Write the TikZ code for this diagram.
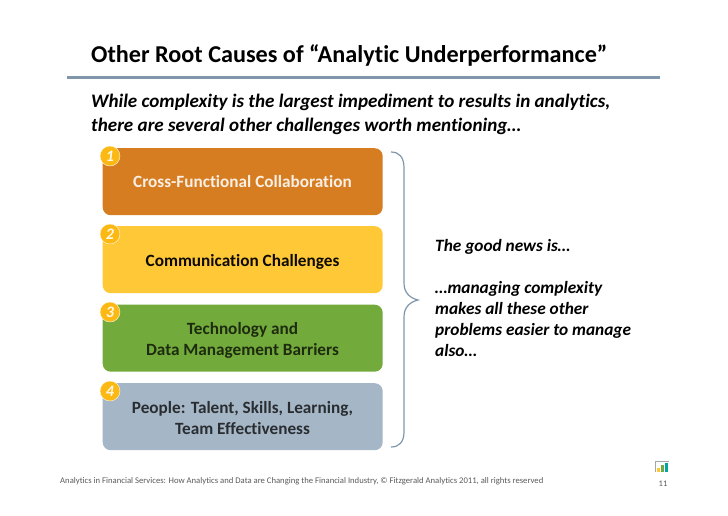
\documentclass[tikz,border=0pt]{standalone}
\usepackage{fontspec}
\setmainfont[RawFeature={-liga}]{Carlito}
\definecolor{orangeb}{HTML}{D67D22}
\definecolor{yellowb}{HTML}{FFC836}
\definecolor{greenb}{HTML}{73AA3C}
\definecolor{blueb}{HTML}{A5B6C6}
\definecolor{ruleb}{HTML}{7F96AB}
\definecolor{badge}{HTML}{FDB913}
\tikzset{x=1pt,y=-1pt,
 barbox/.style={draw=none,rounded corners=8pt,minimum width=280pt,minimum height=67pt,anchor=north west,inner sep=0pt},
 barlabel/.style={font=\fontsize{17.2}{21}\selectfont\bfseries,align=center,anchor=center},
 badgenode/.style={circle,fill=badge,draw=white!92!badge,line width=.4pt,minimum size=20pt,inner sep=0pt,text=white!90!badge,font=\fontsize{16}{16}\selectfont\bfseries\itshape},
 bodytext/.style={font=\fontsize{19.1}{23.5}\selectfont\bfseries\itshape,align=left,anchor=north west,inner sep=0pt}}
\begin{document}
\begin{tikzpicture}
\useasboundingbox (0,0) rectangle (728,515);
\node[anchor=west,inner sep=0pt,font=\fontsize{24.2}{26}\selectfont\bfseries] (title) at (91,55) {Other Root Causes of “Analytic Underperformance”};
\coordinate (ruleL) at (67,77.5);
\coordinate (ruleR) at (660,77.5);
\draw[ruleb,line width=2.2pt] (ruleL) -- (ruleR);
\node[bodytext] (intro) at (91,94) {While complexity is the largest impediment to results in analytics,\\there are several other challenges worth mentioning…};
\node[barbox,fill=orangeb] (b1) at (102.5,148) {};
\node[barbox,fill=yellowb] (b2) at (102.5,226) {};
\node[barbox,fill=greenb] (b3) at (102.5,304.5) {};
\node[barbox,fill=blueb] (b4) at (102.5,383) {};
\node[barlabel,text=white!88!orangeb] (t1) at (242.5,182) {Cross-Functional Collaboration};
\node[barlabel,text=black!95!yellowb] (t2) at (242.5,261.5) {Communication Challenges};
\node[barlabel,text=black!75!greenb] (t3) at (242.5,340.5) {Technology and\\Data Management Barriers};
\node[barlabel,text=black!75!blueb] (t4) at (242.5,418) {People: Talent, Skills, Learning,\\Team Effectiveness};
\node[badgenode] (n1) at (110,156) {1};
\node[badgenode] (n2) at (110,234) {2};
\node[badgenode] (n3) at (110,312) {3};
\node[badgenode] (n4) at (110,391) {4};
\draw[ruleb,line width=1.2pt] (391,152) .. controls (399,152) and (404,157) .. (404,168) -- (404,283) .. controls (404,293) and (410,298) .. (418,300) .. controls (410,302) and (404,307) .. (404,317) -- (404,432) .. controls (404,442) and (399,447) .. (391,447);
\node[font=\fontsize{17.3}{21}\selectfont\bfseries\itshape,align=left,anchor=north west,inner sep=0pt] (news) at (435,239) {The good news is…\\[0pt]\mbox{}\\…managing complexity\\makes all these other\\problems easier to manage\\also…};
\node[anchor=west,inner sep=0pt,text=black!65,font=\fontsize{8.65}{10}\selectfont] (foot) at (60,481) {Analytics in Financial Services: How Analytics and Data are Changing the Financial Industry, © Fitzgerald Analytics 2011, all rights reserved};
\node[anchor=center,inner sep=0pt,text=black!65,font=\fontsize{8.5}{10}\selectfont] (page) at (663,483.5) {11};
\draw[black!35,line width=.7pt] (655,472) -- (655,461) -- (669,461);
\fill[yellowb] (657,467.5) rectangle (660,472);
\fill[greenb] (661,465) rectangle (664,472);
\fill[teal!70!cyan] (665,462.5) rectangle (668,472);
\end{tikzpicture}
\end{document}
